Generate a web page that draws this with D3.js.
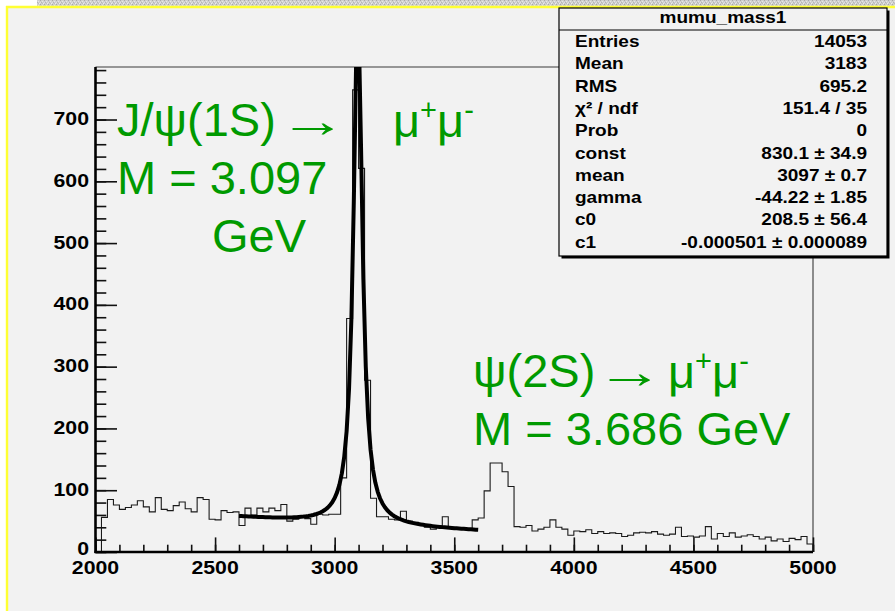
<!DOCTYPE html>
<html>
<head>
<meta charset="utf-8">
<script src="https://cdn.jsdelivr.net/npm/d3@7"></script>
<style>
  body { margin: 0; background: #ffffff; }
  svg { display: block; }
</style>
</head>
<body>
<svg id="chart" width="895" height="611"></svg>
<script>
// Dimuon invariant mass, 25 MeV bins from 2000 to 5000 MeV
const binLow = 2000;
const binWidth = 25;
const counts = [
  0, 56, 85, 76, 69, 72, 76, 83, 73, 65, 88, 69, 67, 75, 81, 70, 65, 88, 85,
  53, 52,
  67, 64, 65, 43, 71, 60, 71, 65, 71, 67, 77, 50, 53, 56, 54, 45, 61, 60, 61, 61,
  120,
  378, 748, 621, 278, 87,
  57, 57, 53, 52, 66, 50, 48, 46, 40, 37, 42, 57, 40, 38, 37, 36, 52, 55,
  99, 144, 144, 130, 106, 41,
  40, 43, 34, 37, 40, 52, 40, 37, 27, 34,
  33, 36, 30, 33, 30, 31, 30, 25, 27, 31, 32, 31, 33, 29, 27, 29, 40, 25, 26, 24,
  26, 41, 21, 30, 25, 31, 24, 26, 28, 25, 21, 24, 18, 21, 17, 22, 20, 25, 13
];

// Axis ticks
const xMajorTicks = [2000, 2500, 3000, 3500, 4000, 4500, 5000];
const yMajorTicks = [0, 100, 200, 300, 400, 500, 600, 700];
const xDomain = [2000, 5000];
const yDomain = [0, 785];

// Fit: Lorentzian peak plus exponential background, range 2600-3600
const fitRange = [2600, 3600];
const fitConst = 830.1;
const fitMean = 3097;
const fitGamma = -44.22;
const fitC0 = 208.5;
const fitC1 = -0.000501;

// Statistics box
const statTitle = "mumu_mass1";
const statLabels = ["Entries", "Mean", "RMS", "χ² / ndf", "Prob", "const", "mean", "gamma", "c0", "c1"];
const statValues = ["14053", "3183", "695.2", "151.4 / 35", "0", "830.1 ± 34.9", "3097 ± 0.7",
                    "-44.22 ± 1.85", "208.5 ± 56.4", "-0.000501 ± 0.000089"];

const BG = "#f2f2f2";
const GREEN = "#009a00";
const SX = 1.12;           // horizontal stretch of the ROOT lettering
const ROOT_FONT = "'Liberation Sans', Arial, Helvetica, sans-serif";

const svg = d3.select("#chart");

// ---- page background, top texture strip and yellow slide border ----
const defs = svg.append("defs");
const pat = defs.append("pattern").attr("id", "grain")
  .attr("width", 4).attr("height", 4).attr("patternUnits", "userSpaceOnUse");
pat.append("rect").attr("width", 4).attr("height", 4).attr("fill", "#cfcfcf");
[[0,0,"#a9a9a9"],[2,1,"#e6e6e6"],[1,2,"#b4b4b4"],[3,3,"#ececec"],[2,3,"#bdbdbd"],[0,2,"#e0e0e0"]]
  .forEach(([px,py,c]) => pat.append("rect").attr("x",px).attr("y",py).attr("width",1).attr("height",1).attr("fill",c));

svg.append("rect").attr("x", 37).attr("y", 0).attr("width", 858).attr("height", 6).attr("fill", "url(#grain)");
svg.append("rect").attr("x", 6).attr("y", 7).attr("width", 889).attr("height", 604).attr("fill", BG);
svg.append("line").attr("x1", 6).attr("x2", 895).attr("y1", 7).attr("y2", 7)
  .attr("stroke", "#ffff33").attr("stroke-width", 2.4);
svg.append("line").attr("x1", 7).attr("x2", 7).attr("y1", 6).attr("y2", 611)
  .attr("stroke", "#ffff33").attr("stroke-width", 2.4);

// ---- scales ----
const x = d3.scaleLinear().domain(xDomain).range([95.5, 813]);
const y = d3.scaleLinear().domain(yDomain).range([552, 67]);

defs.append("clipPath").attr("id", "frameClip")
  .append("rect").attr("x", x(xDomain[0])).attr("y", y(yDomain[1]))
  .attr("width", x(xDomain[1]) - x(xDomain[0])).attr("height", y(0) - y(yDomain[1]));

// ---- frame ----
svg.append("path")
  .attr("d", `M${x(2000)},${y(yDomain[1])}H${x(5000)}V${y(0)}`)
  .attr("fill", "none").attr("stroke", "#3a3a3a").attr("stroke-width", 1.1);

// ---- histogram outline ----
const histPts = [[binLow, 0]];
counts.forEach((c, i) => {
  histPts.push([binLow + i * binWidth, c]);
  histPts.push([binLow + (i + 1) * binWidth, c]);
});
histPts.push([binLow + counts.length * binWidth, 0]);

const line = d3.line().x(d => x(d[0])).y(d => y(d[1]));
svg.append("path").datum(histPts)
  .attr("clip-path", "url(#frameClip)")
  .attr("d", line).attr("fill", "none")
  .attr("stroke", "#1a1a1a").attr("stroke-width", 1.1);

// ---- fit curve (100 segments over the fit range) ----
function fitFunc(m) {
  const hg = fitGamma / 2;
  const peak = fitConst * hg * hg / ((m - fitMean) * (m - fitMean) + hg * hg);
  return peak + fitC0 * Math.exp(fitC1 * m);
}
const nSeg = 100;
const fitPts = d3.range(nSeg + 1).map(k => {
  const m = fitRange[0] + k * (fitRange[1] - fitRange[0]) / nSeg;
  return [m, fitFunc(m)];
});
svg.append("path").datum(fitPts)
  .attr("clip-path", "url(#frameClip)")
  .attr("d", line).attr("fill", "none")
  .attr("stroke", "#000").attr("stroke-width", 4).attr("stroke-linejoin", "round");

// ---- axes: ticks point into the frame ----
const yAxisMinor = d3.axisLeft(y).tickValues(d3.range(0, 781, 20)).tickSize(-10.8).tickFormat("");
const yAxisMajor = d3.axisLeft(y).tickValues(yMajorTicks).tickSize(-21.5).tickFormat("");
const xAxisMinor = d3.axisBottom(x).tickValues(d3.range(2000, 5001, 100)).tickSize(-7.3).tickFormat("");
const xAxisMajor = d3.axisBottom(x).tickValues(xMajorTicks).tickSize(-14.6).tickFormat("");

function styleAxis(g) {
  g.select(".domain").remove();
  g.selectAll(".tick line").attr("stroke", "#111").attr("stroke-width", 1.6);
}
svg.append("g").attr("transform", `translate(${x(2000)},0)`).call(yAxisMinor).call(styleAxis);
svg.append("g").attr("transform", `translate(${x(2000)},0)`).call(yAxisMajor).call(styleAxis);
svg.append("g").attr("transform", `translate(0,${y(0)})`).call(xAxisMinor).call(styleAxis);
svg.append("g").attr("transform", `translate(0,${y(0)})`).call(xAxisMajor).call(styleAxis);

// axis lines
svg.append("line").attr("x1", x(2000)).attr("x2", x(2000)).attr("y1", y(yDomain[1])).attr("y2", y(0) + 1)
  .attr("stroke", "#000").attr("stroke-width", 2.6);
svg.append("line").attr("x1", x(2000) - 1).attr("x2", x(5000)).attr("y1", y(0)).attr("y2", y(0))
  .attr("stroke", "#000").attr("stroke-width", 2.4);

// stretched bold lettering
function rootText(parent, px, py, str, anchor, size, weight) {
  return parent.append("text")
    .attr("transform", `translate(${px},${py}) scale(${SX},1)`)
    .attr("text-anchor", anchor)
    .style("font-family", ROOT_FONT)
    .style("font-size", size + "px")
    .style("font-weight", weight || "bold")
    .attr("fill", "#000")
    .text(str);
}

const labels = svg.append("g");
// the zero label sits a little higher so it clears the x labels
yMajorTicks.forEach(v => rootText(labels, 89, y(v) + (v === 0 ? 2.5 : 5.5), String(v), "end", 19));
xMajorTicks.forEach(v => rootText(labels, x(v), 574, String(v), "middle", 19));

// ---- statistics box ----
const box = { x: 559, y: 8, w: 328, h: 248 };
svg.append("rect").attr("x", box.x + 2.5).attr("y", box.y + 2.5).attr("width", box.w).attr("height", box.h)
  .attr("fill", "#000");
svg.append("rect").attr("x", box.x).attr("y", box.y).attr("width", box.w).attr("height", box.h)
  .attr("fill", BG).attr("stroke", "#000").attr("stroke-width", 1.2);
svg.append("line").attr("x1", box.x).attr("x2", box.x + box.w).attr("y1", 30).attr("y2", 30)
  .attr("stroke", "#000").attr("stroke-width", 1.2);

const stats = svg.append("g");
rootText(stats, box.x + box.w / 2, 22.5, statTitle, "middle", 17);
statLabels.forEach((lab, i) => {
  const by = 47 + i * 22.3;
  rootText(stats, 575, by, lab, "start", 17);
  rootText(stats, 867, by, statValues[i], "end", 17);
});

// ---- annotations ----
const ann = svg.append("g")
  .style("font-family", "'Liberation Sans', Arial, Helvetica, sans-serif")
  .style("font-size", "47px")
  .attr("fill", GREEN);

function arrow(px, py) {
  ann.append("text").attr("transform", `translate(${px},${py}) scale(1.45,1)`).text("→");
}
function muPair(px, py) {
  const t = ann.append("text").attr("x", px).attr("y", py);
  t.append("tspan").text("μ");
  t.append("tspan").attr("dy", -17).style("font-size", "29px").text("+");
  t.append("tspan").attr("dy", 17).text("μ");
  t.append("tspan").attr("dy", -17).style("font-size", "29px").text("-");
}

ann.append("text").attr("x", 117).attr("y", 136).text("J/ψ(1S)");
arrow(279, 137);
muPair(393, 137);
ann.append("text").attr("x", 117).attr("y", 194).text("M = 3.097");
ann.append("text").attr("x", 212).attr("y", 252).text("GeV");

ann.append("text").attr("x", 473).attr("y", 387).text("ψ(2S)");
arrow(596, 388);
muPair(668, 388);
ann.append("text").attr("x", 473).attr("y", 445).text("M = 3.686 GeV");
</script>
</body>
</html>
